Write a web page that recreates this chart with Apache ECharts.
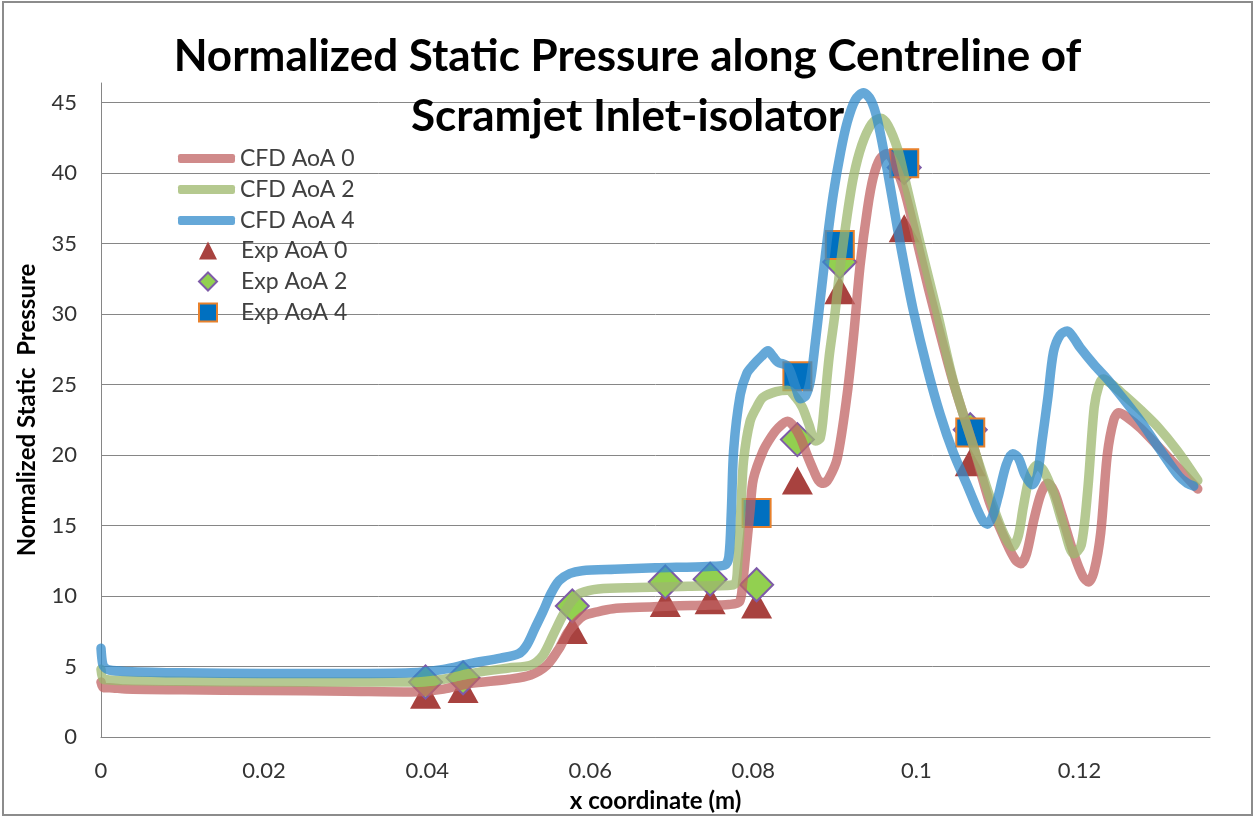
<!DOCTYPE html>
<html>
<head>
<meta charset="utf-8">
<script src="https://cdn.jsdelivr.net/npm/echarts@6/dist/echarts.min.js"></script>
<style>
  html, body { margin: 0; padding: 0; background: #fff; }
  #chart { width: 1255px; height: 818px; }
</style>
</head>
<body>
<div id="chart"></div>
<script>
// CFD curves
const cfd0X = [0, 0.0003, 0.001, 0.003, 0.01, 0.02, 0.03, 0.038, 0.042, 0.0452, 0.05, 0.0527, 0.0547, 0.0562, 0.0572, 0.0582, 0.0592, 0.061, 0.0628, 0.066, 0.07, 0.074, 0.077, 0.0783, 0.0787, 0.079, 0.0796, 0.080, 0.0812, 0.0822, 0.083, 0.0842, 0.085, 0.0858, 0.0866, 0.0874, 0.088, 0.0886, 0.0893, 0.0903, 0.0915, 0.0923, 0.0931, 0.094, 0.0947, 0.0955, 0.0964, 0.0972, 0.0985, 0.0996, 0.1017, 0.1045, 0.107, 0.109, 0.1111, 0.1121, 0.1128, 0.1135, 0.1144, 0.1153, 0.1161, 0.1169, 0.1177, 0.1193, 0.1204, 0.1211, 0.1218, 0.1226, 0.1234, 0.1242, 0.1248, 0.1258, 0.1275, 0.1308, 0.1345]
const cfd0Y = [3.9, 3.5, 3.5, 3.4, 3.35, 3.3, 3.25, 3.2, 3.4, 3.8, 4.1, 4.4, 5.1, 6.3, 7.4, 8.1, 8.6, 8.9, 9.1, 9.2, 9.3, 9.35, 9.4, 9.6, 11.0, 12.6, 16.1, 18.3, 20.3, 21.3, 21.9, 22.4, 22.0, 21.2, 20.0, 18.9, 18.2, 18.0, 18.4, 19.8, 24.3, 28.5, 33.5, 37.5, 39.7, 41.0, 41.4, 40.8, 38.8, 36.3, 31.3, 25.2, 20.6, 16.6, 13.7, 12.6, 12.3, 13.0, 15.4, 17.3, 18.0, 17.4, 16.0, 13.0, 11.4, 11.0, 11.8, 14.5, 20.0, 22.5, 23.0, 22.7, 21.9, 19.9, 17.6]

const cfd2X = [0, 0.0003, 0.001, 0.003, 0.01, 0.02, 0.03, 0.038, 0.042, 0.0452, 0.05, 0.0527, 0.0542, 0.0555, 0.0567, 0.0578, 0.0588, 0.061, 0.066, 0.072, 0.0776, 0.0781, 0.0785, 0.0788, 0.0796, 0.0805, 0.0812, 0.0828, 0.0842, 0.0852, 0.086, 0.0868, 0.0876, 0.0882, 0.0887, 0.0893, 0.09, 0.0907, 0.0915, 0.0923, 0.0933, 0.0945, 0.0956, 0.0965, 0.0977, 0.0985, 0.1005, 0.1026, 0.1045, 0.107, 0.1095, 0.1108, 0.1118, 0.1125, 0.1131, 0.1139, 0.1148, 0.1156, 0.1168, 0.118, 0.1193, 0.1202, 0.121, 0.1218, 0.1224, 0.1229, 0.124, 0.1254, 0.1275, 0.1296, 0.132, 0.1345]
const cfd2Y = [4.8, 4.1, 4.05, 4.0, 3.95, 3.9, 3.9, 3.9, 4.1, 4.5, 4.9, 5.1, 5.8, 7.3, 8.7, 9.7, 10.2, 10.5, 10.6, 10.7, 10.8, 12.5, 16.5, 19.6, 22.4, 23.5, 24.1, 24.5, 24.6, 24.1, 23.4, 22.2, 21.0, 21.2, 23.5, 27.0, 30.0, 33.6, 37.0, 39.8, 42.0, 43.5, 43.9, 43.4, 41.7, 39.8, 34.9, 30.0, 25.3, 20.6, 16.2, 14.3, 13.5, 14.3, 16.3, 18.5, 19.3, 18.9, 17.3, 15.0, 13.0, 13.6, 17.5, 23.4, 25.0, 25.4, 25.0, 24.3, 23.2, 22.0, 20.3, 18.2]

const cfd4X = [0, 0.0002, 0.0005, 0.001, 0.003, 0.01, 0.02, 0.03, 0.038, 0.042, 0.0452, 0.049, 0.0512, 0.0522, 0.0532, 0.0542, 0.0552, 0.0562, 0.0575, 0.059, 0.063, 0.068, 0.0745, 0.0765, 0.077, 0.0773, 0.0776, 0.0784, 0.0792, 0.080, 0.081, 0.0818, 0.0824, 0.083, 0.0842, 0.0852, 0.0858, 0.0864, 0.087, 0.0876, 0.0882, 0.089, 0.0898, 0.0907, 0.0915, 0.0925, 0.0935, 0.0944, 0.0952, 0.0964, 0.0977, 0.0986, 0.0996, 0.1013, 0.1029, 0.1045, 0.1062, 0.1075, 0.1082, 0.1087, 0.1093, 0.11, 0.111, 0.1118, 0.1125, 0.1133, 0.1142, 0.1148, 0.1154, 0.1161, 0.1168, 0.1176, 0.1185, 0.1193, 0.1201, 0.1218, 0.1234, 0.1255, 0.1275, 0.1295, 0.1308, 0.1322, 0.1332, 0.134]
const cfd4Y = [6.3, 5.2, 4.9, 4.75, 4.65, 4.55, 4.5, 4.5, 4.55, 4.8, 5.2, 5.6, 5.9, 6.5, 7.7, 8.9, 10.2, 11.1, 11.6, 11.8, 11.9, 12.0, 12.1, 12.2, 12.8, 16.0, 20.5, 24.3, 25.8, 26.4, 27.0, 27.4, 27.0, 26.6, 26.3, 24.8, 24.0, 24.2, 25.3, 28.0, 31.0, 35.0, 38.5, 41.5, 43.6, 45.2, 45.7, 45.2, 43.8, 40.3, 36.0, 33.2, 30.3, 26.2, 22.9, 20.2, 17.9, 16.1, 15.3, 15.1, 15.6, 17.0, 19.3, 20.1, 19.8, 18.6, 17.9, 18.5, 21.0, 24.0, 27.3, 28.5, 28.8, 28.3, 27.6, 26.4, 25.4, 23.9, 22.4, 20.7, 19.6, 18.5, 18.0, 17.8]

// experimental points
const exp0X = [0.0398, 0.0444, 0.0578, 0.0692, 0.0747, 0.0804, 0.0854, 0.0906, 0.0985, 0.1066]
const exp0Y = [3.0, 3.4, 7.6, 9.5, 9.7, 9.4, 18.2, 31.7, 36.1, 19.5]
const exp2X = [0.0398, 0.0444, 0.0578, 0.0692, 0.0747, 0.0804, 0.0854, 0.0906, 0.0985, 0.1066]
const exp2Y = [3.9, 4.2, 9.3, 11.0, 11.2, 10.8, 21.1, 33.7, 40.4, 21.8]
const exp4X = [0.0804, 0.0854, 0.0906, 0.0985, 0.1066]
const exp4Y = [15.9, 25.6, 34.9, 40.7, 21.6]

const seriesNames = ['CFD AoA 0', 'CFD AoA 2', 'CFD AoA 4', 'Exp AoA 0', 'Exp AoA 2', 'Exp AoA 4']
const lineColors = ['rgb(192,99,99)', 'rgb(156,183,110)', 'rgb(50,139,203)']
const legendLineColors = ['#D08A8A', '#B5C98F', '#65A8D8']

const pairs = (xs, ys) => xs.map((x, i) => [x, ys[i]])
const FONT = 'Lato, "Open Sans", sans-serif'

const chart = echarts.init(document.getElementById('chart'))

function cfdLine(name, xs, ys, color) {
  return {
    name: name,
    type: 'line',
    data: pairs(xs, ys),
    symbol: 'none',
    smooth: 0.3,
    clip: false,
    color: color,
    lineStyle: { color: color, width: 9.5, opacity: 0.75, cap: 'round', join: 'round' }
  }
}

function expPoints(name, xs, ys, symbol, size, itemStyle) {
  return {
    name: name,
    type: 'scatter',
    data: pairs(xs, ys),
    symbol: symbol,
    symbolSize: size,
    itemStyle: Object.assign({ opacity: 1 }, itemStyle)
  }
}

const option = {
  backgroundColor: '#fff',
  animation: false,
  title: {
    text: 'Normalized Static Pressure along Centreline of\nScramjet Inlet-isolator',
    left: 'center',
    top: 22,
    textStyle: { fontFamily: FONT, fontWeight: 'bold', fontSize: 44, lineHeight: 60, color: '#000' }
  },
  grid: { left: 101, right: 45, top: 83, bottom: 76, containLabel: false },
  legend: [
    {
      data: seriesNames.slice(0, 3).map((n, i) => ({ name: n, itemStyle: { color: legendLineColors[i] } })),
      orient: 'vertical',
      left: 173,
      top: 142,
      icon: 'roundRect',
      itemWidth: 57,
      itemHeight: 9,
      itemGap: 8,
      textStyle: { fontFamily: FONT, fontSize: 23, color: '#404040' }
    },
    {
      data: seriesNames.slice(3),
      orient: 'vertical',
      left: 193,
      top: 234,
      itemWidth: 18,
      itemHeight: 18,
      itemGap: 8,
      textStyle: { fontFamily: FONT, fontSize: 23, color: '#404040', padding: [0, 0, 0, 19] }
    }
  ],
  xAxis: {
    type: 'value',
    min: 0,
    max: 0.136,
    interval: 0.02,
    name: 'x coordinate (m)',
    nameLocation: 'middle',
    nameGap: 52,
    nameTextStyle: { fontFamily: FONT, fontWeight: 'bold', fontSize: 24, color: '#000' },
    axisLine: { lineStyle: { color: '#868686', width: 1 } },
    axisTick: { show: false },
    splitLine: { show: false },
    axisLabel: {
      showMaxLabel: false,
      margin: 23,
      fontFamily: FONT,
      fontSize: 22,
      color: '#333',
      formatter: v => String(+v.toFixed(2))
    }
  },
  yAxis: {
    type: 'value',
    min: 0,
    max: 46.4,
    interval: 5,
    name: 'Normalized Static  Pressure',
    nameLocation: 'middle',
    nameRotate: 90,
    nameGap: 62,
    nameTextStyle: { fontFamily: FONT, fontWeight: 'bold', fontSize: 24, color: '#000' },
    axisLine: { show: true, lineStyle: { color: '#868686', width: 1 } },
    axisTick: { show: false },
    splitLine: { show: true, showMaxLine: false, lineStyle: { color: '#868686', width: 1 } },
    axisLabel: { showMaxLabel: false, margin: 24, fontFamily: FONT, fontSize: 22, color: '#333' }
  },
  series: [
    cfdLine(seriesNames[0], cfd0X, cfd0Y, lineColors[0]),
    cfdLine(seriesNames[1], cfd2X, cfd2Y, lineColors[1]),
    cfdLine(seriesNames[2], cfd4X, cfd4Y, lineColors[2]),
    expPoints(seriesNames[3], exp0X, exp0Y, 'triangle', [31, 28], { color: '#A8423F' }),
    expPoints(seriesNames[4], exp2X, exp2Y, 'diamond', [33, 33], { color: '#92D050', borderColor: '#7E5BA8', borderWidth: 2 }),
    expPoints(seriesNames[5], exp4X, exp4Y, 'rect', [28, 28], { color: '#0070C0', borderColor: '#E8812C', borderWidth: 2 })
  ],
  graphic: [
    {
      type: 'rect',
      shape: { x: 3, y: 2, width: 1249, height: 813 },
      style: { fill: 'none', stroke: '#8c8c8c', lineWidth: 2 },
      silent: true,
      z: -1
    }
  ]
}

chart.setOption(option)
window.addEventListener('resize', () => chart.resize())
</script>
</body>
</html>
